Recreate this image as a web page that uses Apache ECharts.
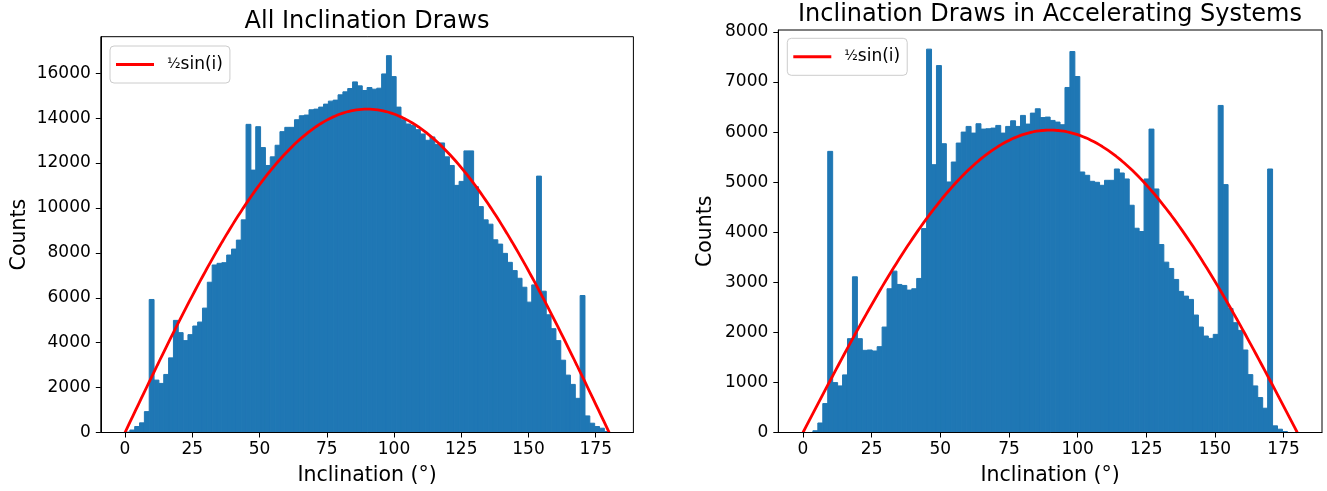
<!DOCTYPE html>
<html><head><meta charset="utf-8">
<script src="https://cdn.jsdelivr.net/npm/echarts@6/dist/echarts.min.js"></script>
<style>html,body{margin:0;padding:0;background:#fff}#c{width:1327px;height:491px}</style>
</head><body><div id="c"></div>
<script>
// ---- data ----
const binStart = 0;
const binWidth = 1.8;
const allCounts = [20,110,266,430,930,5923,2334,2186,2585,3323,
  4992,4446,4091,4357,4741,4918,5539,6691,7459,7533,
  7562,7902,8168,8567,9468,13721,11683,13618,12687,11890,
  12274,12791,13397,13588,13588,13928,14105,14135,14371,14400,
  14489,14622,14755,14800,15036,15169,15316,15612,15435,15228,
  15361,15287,15331,15966,16780,15848,14489,13928,13736,13677,
  13485,13293,13012,13160,12820,12894,12274,11890,11004,11181,
  12540,12540,10945,10058,9468,9276,8581,8389,7976,7577,
  7208,6868,6469,5805,6573,11417,6292,5243,4623,4091,
  3220,2555,2142,1521,6100,738,414,266,192,44];
const accCounts = [0,0,35,190,578,5615,997,930,1150,1874,
  3110,1874,1641,1648,1628,1714,2106,2871,3223,2957,
  2937,2844,2871,3077,4073,7657,5349,7329,5768,5004,
  5402,5781,6000,6113,5980,6167,6060,6067,6080,6133,
  5980,6113,6226,6113,6333,6160,6379,6466,6290,6300,
  6233,6200,6147,6891,7609,7110,5203,5137,5017,4997,
  4937,5037,5037,5263,5183,5064,4539,4080,4014,5064,
  6060,4864,3754,3402,3276,3057,2818,2724,2658,2346,
  2106,1927,1880,1960,6532,4951,2478,2193,2040,1648,
  1156,930,698,485,5263,133,66,20,0,0];
const xTicks = [0,25,50,75,100,125,150,175];
const allYTicks = [0,2000,4000,6000,8000,10000,12000,14000,16000];
const accYTicks = [0,1000,2000,3000,4000,5000,6000,7000,8000];
const allCurvePeak = 14400;
const accCurvePeak = 6040;
const titles = ['All Inclination Draws', 'Inclination Draws in Accelerating Systems'];
const xLabel = 'Inclination (°)';
const yLabel = 'Counts';
const curveName = '½sin(i)';

// ---- build ----
const FONT = 'DejaVu Sans';
const BAR = '#1f77b4';
const TICK_FS = 17;
const NAME_FS = 20.5;
function histData(counts){ return counts.map((c,i)=>[binStart+i*binWidth, binStart+(i+1)*binWidth, c]); }
function curveData(peak){ const d=[]; for(let a=0;a<=180;a+=1){ d.push([a, peak*Math.sin(a*Math.PI/180)]); } return d; }

const chart = echarts.init(document.getElementById('c'), null, {renderer:'canvas'});

function xAxisCfg(idx){
  return {gridIndex:idx, type:'value', min:-9, max:189, z:10,
    axisLine:{show:true, onZero:false, lineStyle:{color:'#000', width:1}},
    axisTick:{show:true, length:5, lineStyle:{color:'#000', width:1}, customValues:xTicks},
    axisLabel:{customValues:xTicks, margin:8.5, fontSize:TICK_FS, fontFamily:FONT, color:'#000', formatter:v=>String(v)},
    splitLine:{show:false},
    name:xLabel, nameLocation:'middle', nameGap:32.5, nameMoveOverlap:false,
    nameTextStyle:{fontSize:NAME_FS, fontFamily:FONT, color:'#000'}};
}
function yAxisCfg(idx, max, ticks, gap){
  return {gridIndex:idx, type:'value', min:0, max:max, z:10,
    axisLine:{show:true, onZero:false, lineStyle:{color:'#000', width:1}},
    axisTick:{show:true, length:5, lineStyle:{color:'#000', width:1}, customValues:ticks},
    axisLabel:{customValues:ticks, margin:10, fontSize:TICK_FS, fontFamily:FONT, color:'#000', formatter:v=>String(v)},
    splitLine:{show:false},
    name:yLabel, nameLocation:'middle', nameRotate:90, nameGap:gap, nameMoveOverlap:false,
    nameTextStyle:{fontSize:NAME_FS, fontFamily:FONT, color:'#000'}};
}
function histSeries(idx, name, counts){
  return {type:'custom', name:name, xAxisIndex:idx, yAxisIndex:idx, data:histData(counts),
    encode:{x:[0,1], y:2}, silent:true, z:2,
    renderItem:(params, api)=>{
      const p0 = api.coord([api.value(0), api.value(2)]);
      const p1 = api.coord([api.value(1), 0]);
      return {type:'rect', shape:{x:p0[0], y:p0[1], width:p1[0]-p0[0], height:p1[1]-p0[1]},
        style:{fill:BAR, stroke:BAR, lineWidth:1}};
    }};
}
function curveSeries(idx, peak){
  return {type:'line', name:curveName, xAxisIndex:idx, yAxisIndex:idx, data:curveData(peak),
    showSymbol:false, symbol:'none', smooth:false, z:5, color:'#ff0000',
    lineStyle:{color:'#ff0000', width:2.8}, silent:true};
}
function legendCfg(left, top){
  return {left:left, top:top, data:[curveName], icon:'rect', itemWidth:38, itemHeight:3,
    padding:[10,7,10,6], backgroundColor:'rgba(255,255,255,0.8)', borderColor:'#cccccc', borderWidth:1, borderRadius:4,
    selectedMode:false, itemStyle:{color:'#ff0000'},
    formatter:()=>'{f|½}{s|sin(i)}',
    textStyle:{fontFamily:FONT, color:'#000', fontSize:17, padding:[0,0,0,8],
      rich:{f:{fontSize:14, fontFamily:FONT, color:'#000'}, s:{fontSize:17, fontFamily:FONT, color:'#000'}}}};
}

chart.setOption({
  animation:false,
  backgroundColor:'#fff',
  title:[
    {text:titles[0], left:367, top:9.3, textAlign:'center', padding:0, textStyle:{fontSize:24, fontWeight:'normal', fontFamily:FONT, color:'#000'}},
    {text:titles[1], left:1050, top:2.3, textAlign:'center', padding:0, textStyle:{fontSize:24, fontWeight:'normal', fontFamily:FONT, color:'#000'}}
  ],
  legend:[legendCfg(110,46), legendCfg(787.3,38.3)],
  grid:[
    {left:100.8, top:36.7, width:532.6, height:397.6, show:true, borderColor:'#000', borderWidth:1, backgroundColor:'#fff', containLabel:false},
    {left:778.3, top:30, width:543.7, height:403.3, show:true, borderColor:'#000', borderWidth:1, backgroundColor:'#fff', containLabel:false}
  ],
  xAxis:[xAxisCfg(0), xAxisCfg(1)],
  yAxis:[yAxisCfg(0, 17624, allYTicks, 71), yAxisCfg(1, 8039, accYTicks, 62)],
  series:[histSeries(0,'All draws',allCounts), curveSeries(0, allCurvePeak),
          histSeries(1,'Accelerating draws',accCounts), curveSeries(1, accCurvePeak)]
});
</script></body></html>
